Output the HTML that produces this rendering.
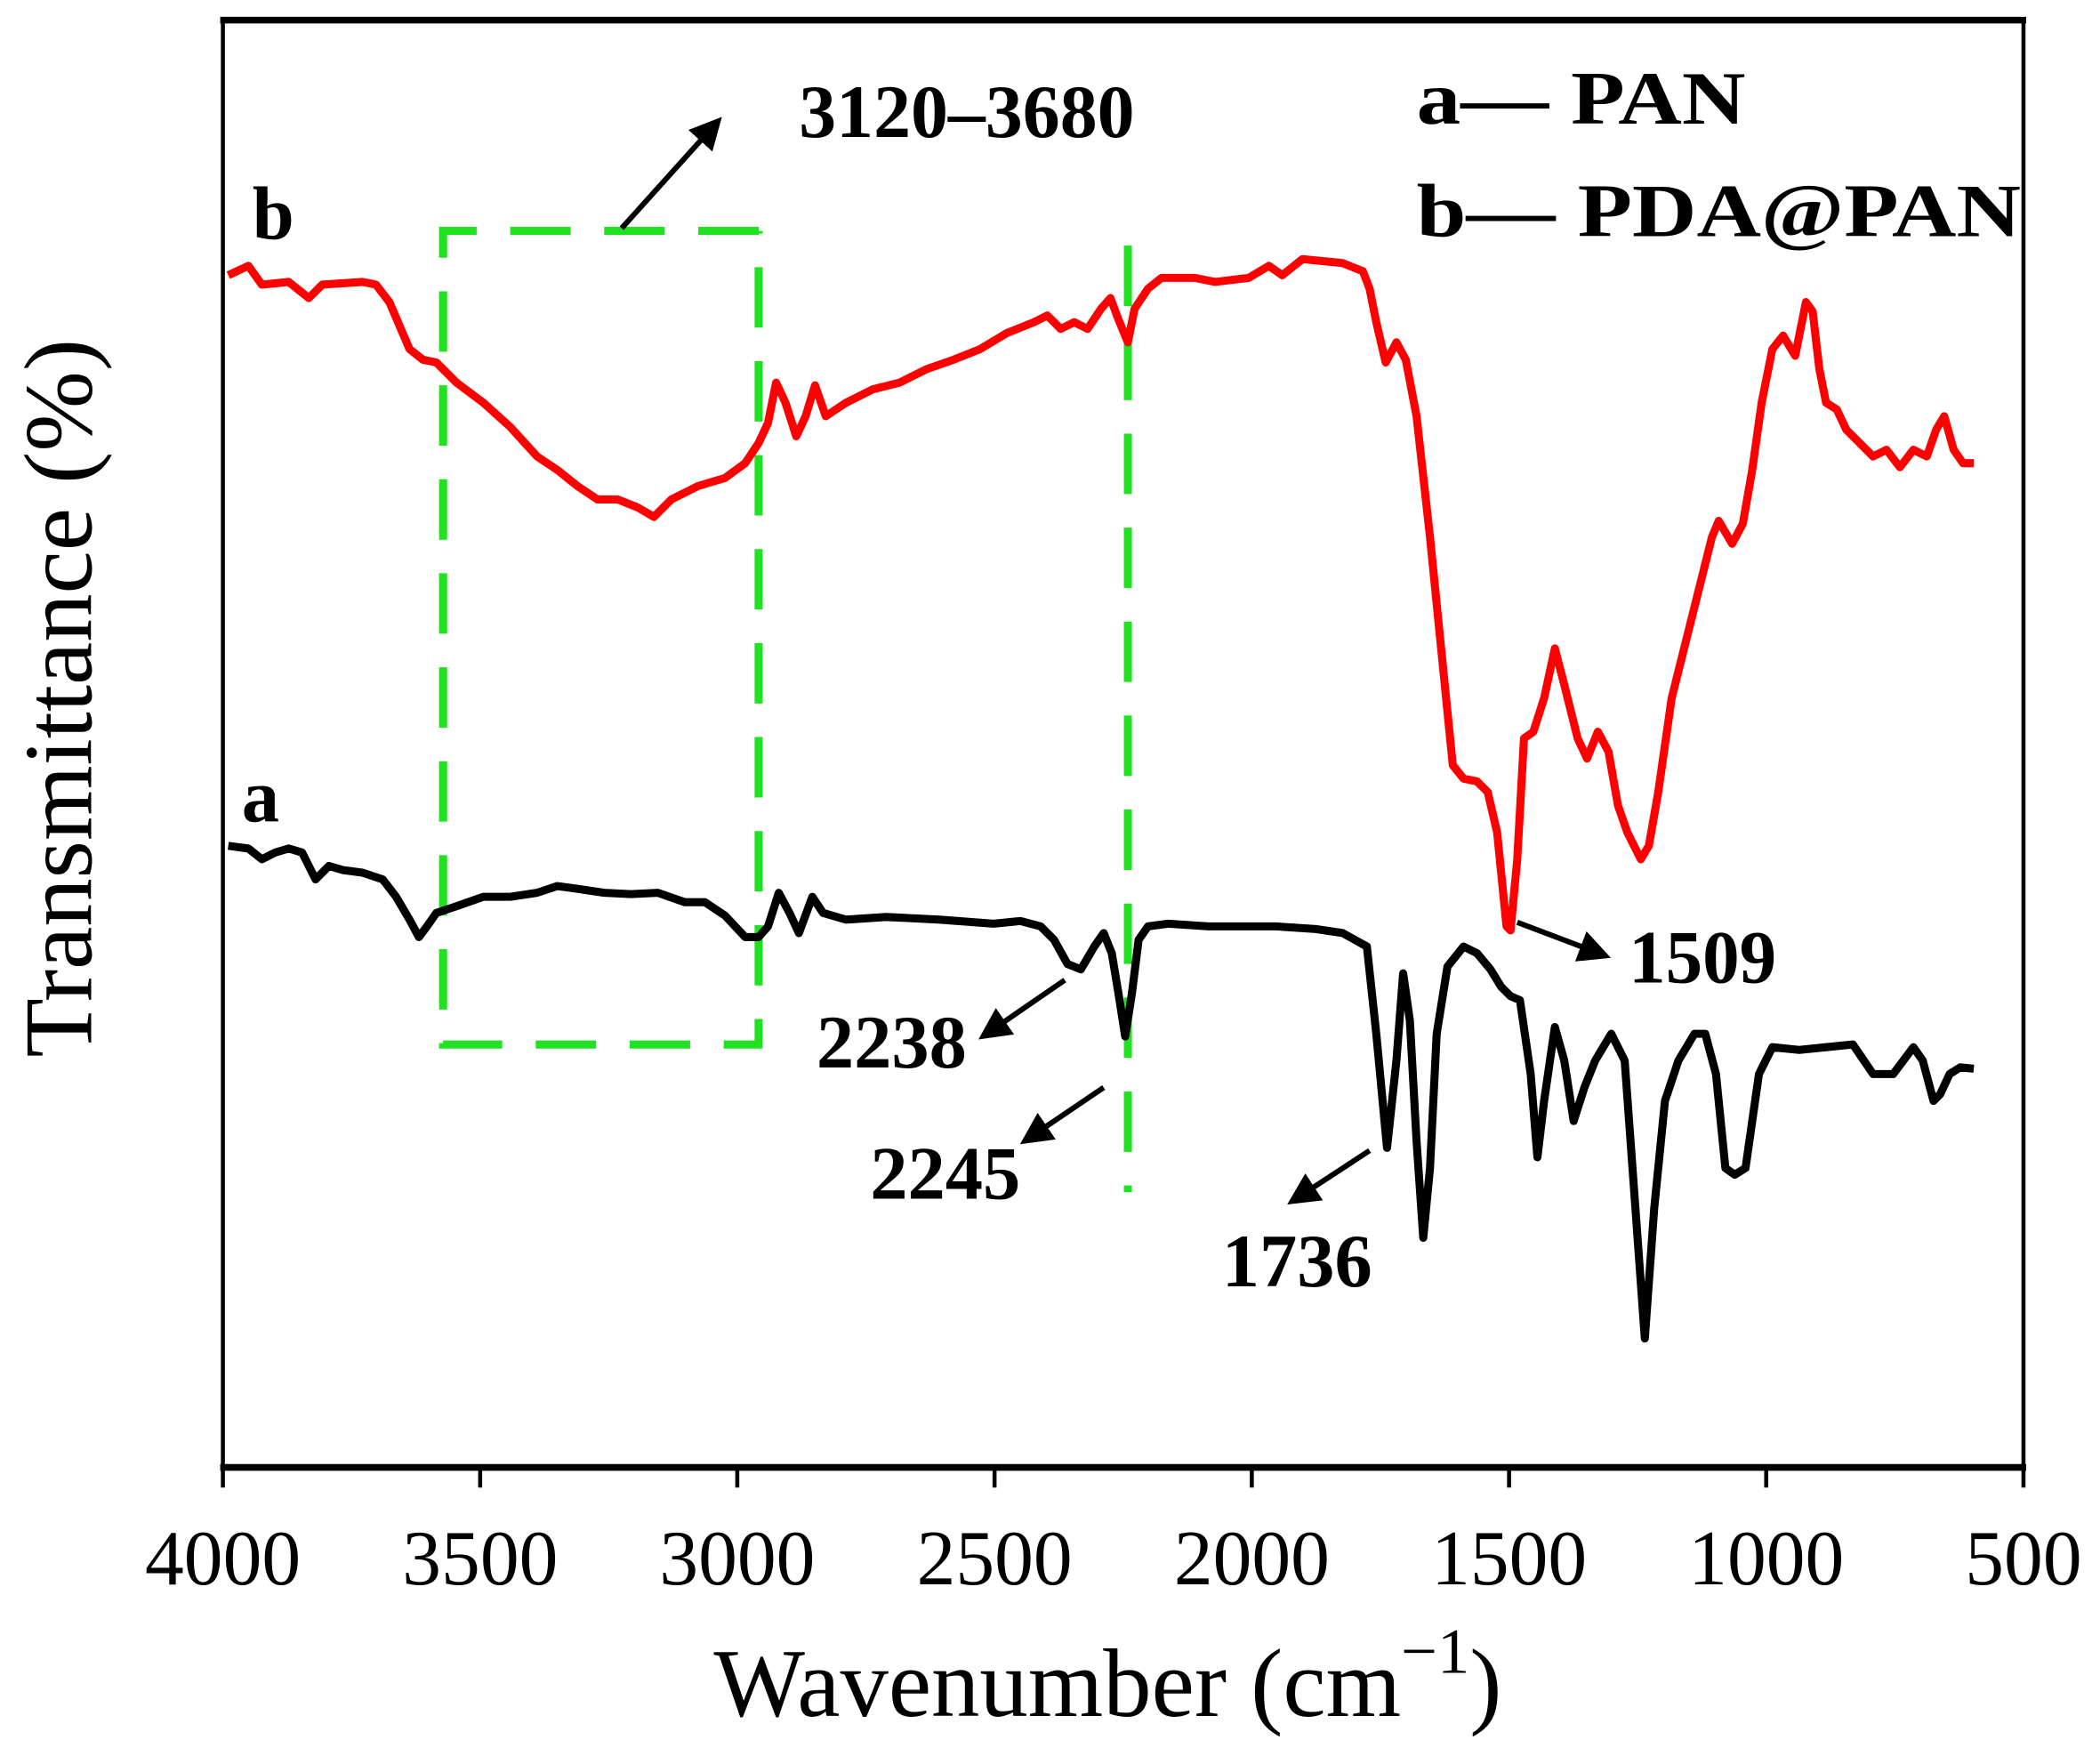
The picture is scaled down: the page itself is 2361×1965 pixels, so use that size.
<!DOCTYPE html>
<html><head><style>html,body{margin:0;padding:0;background:#fff}svg{display:block}</style></head>
<body>
<svg width="2361" height="1965" viewBox="0 0 1564 1302" preserveAspectRatio="none" xmlns="http://www.w3.org/2000/svg" font-family="Liberation Serif, serif">
<defs><marker id="ah" markerWidth="6" markerHeight="6" refX="5" refY="3" orient="auto" markerUnits="strokeWidth"><path d="M0,0 L6,3 L0,6 Z" fill="#000"/></marker></defs>
<rect x="166" y="15" width="1341" height="1078" fill="none" stroke="#000" stroke-width="3"/>
<line x1="164" y1="15" x2="1509" y2="15" stroke="#000" stroke-width="5"/>
<line x1="164" y1="1093" x2="1509" y2="1093" stroke="#000" stroke-width="5"/>
<g stroke="#000" stroke-width="3">
<line x1="166" y1="1093" x2="166" y2="1108"/><line x1="357.6" y1="1093" x2="357.6" y2="1108"/><line x1="549.1" y1="1093" x2="549.1" y2="1108"/><line x1="740.7" y1="1093" x2="740.7" y2="1108"/><line x1="932.3" y1="1093" x2="932.3" y2="1108"/><line x1="1123.9" y1="1093" x2="1123.9" y2="1108"/><line x1="1315.4" y1="1093" x2="1315.4" y2="1108"/><line x1="1507" y1="1093" x2="1507" y2="1108"/>
</g>
<g font-size="58" text-anchor="middle" fill="#000">
<text x="166" y="1180">4000</text><text x="357.6" y="1180">3500</text><text x="549.1" y="1180">3000</text><text x="740.7" y="1180">2500</text><text x="932.3" y="1180">2000</text><text x="1123.9" y="1180">1500</text><text x="1315.4" y="1180">1000</text><text x="1507" y="1180">500</text>
</g>
<text x="825" y="1278" font-size="72" text-anchor="middle">Wavenumber (cm<tspan dy="-32" font-size="48">−1</tspan><tspan dy="32">)</tspan></text>
<text transform="translate(68,520) rotate(-90)" font-size="72" text-anchor="middle">Transmittance (%)</text>
<g stroke="#22e022" stroke-width="6" stroke-dasharray="45,25" fill="none">
<path d="M565,172 L330,172 L330,778 L565,778 L565,172"/>
<line x1="840" y1="183" x2="840" y2="888"/>
</g>
<polyline fill="none" stroke="#ff0000" stroke-width="6" stroke-linejoin="round" points="170,205 185,198 195,212 215,210 230,222 240,212 270,210 280,212 290,225 305,260 315,268 325,270 340,285 360,300 380,318 400,340 415,350 430,362 445,372 460,372 475,378 487,385 500,372 520,362 540,356 555,345 565,330 572,315 578,285 585,300 593,325 600,310 607,287 615,310 630,300 650,290 670,285 690,275 710,268 730,260 750,248 770,240 780,235 790,245 800,240 810,245 820,230 827,222 833,238 840,255 845,230 855,215 865,207 890,207 905,210 930,207 945,198 955,205 970,193 1000,196 1015,202 1020,215 1025,240 1032,270 1040,255 1047,268 1055,310 1065,400 1075,500 1082,570 1090,580 1100,582 1108,590 1115,620 1122,690 1125,693 1130,640 1135,550 1142,545 1150,520 1158,483 1165,510 1175,550 1182,565 1190,545 1198,560 1205,600 1212,620 1222,640 1228,630 1235,590 1245,520 1255,480 1265,440 1275,400 1280,388 1290,405 1298,390 1305,350 1312,300 1320,260 1328,250 1337,265 1345,225 1350,232 1355,275 1360,300 1368,305 1375,320 1385,330 1395,340 1405,335 1415,348 1425,335 1435,340 1442,320 1448,310 1455,335 1462,345 1470,345"/>
<polyline fill="none" stroke="#000" stroke-width="6" stroke-linejoin="round" points="170,630 185,632 195,640 205,635 215,632 225,635 235,655 245,645 255,648 270,650 285,655 295,668 305,685 312,698 318,690 325,680 340,675 360,668 380,668 400,665 415,660 430,662 450,665 470,666 490,665 510,672 525,672 540,682 555,698 565,698 572,690 580,665 588,680 595,695 605,668 613,680 630,685 660,683 700,685 740,688 760,686 775,690 785,700 795,718 805,722 815,705 822,695 828,710 833,740 838,772 843,740 848,700 855,690 870,688 900,690 950,690 980,692 1000,695 1018,705 1025,770 1033,855 1040,790 1045,725 1050,760 1055,850 1060,922 1065,870 1070,770 1078,720 1090,705 1100,710 1110,722 1118,735 1125,742 1132,745 1140,800 1145,862 1150,820 1158,765 1165,790 1172,835 1180,810 1188,790 1200,770 1210,790 1218,900 1225,997 1232,900 1240,820 1250,790 1262,770 1270,770 1278,800 1285,870 1292,875 1300,870 1310,800 1320,780 1340,782 1360,780 1380,778 1395,800 1410,800 1425,780 1432,790 1440,820 1445,815 1452,800 1460,795 1470,796"/>
<g stroke="#000" stroke-width="4" marker-end="url(#ah)">
<line x1="463" y1="170" x2="535" y2="90"/>
<line x1="1130" y1="687" x2="1196" y2="712"/>
<line x1="793" y1="730" x2="732" y2="772"/>
<line x1="822" y1="810" x2="763" y2="850"/>
<line x1="1020" y1="857" x2="962" y2="895"/>
</g>
<g font-size="56" font-weight="bold" fill="#000" lengthAdjust="spacingAndGlyphs">
<text x="595" y="102" textLength="250" lengthAdjust="spacingAndGlyphs">3120–3680</text>
<text x="1055" y="92" textLength="245" lengthAdjust="spacingAndGlyphs">a— PAN</text>
<text x="1055" y="176" textLength="450" lengthAdjust="spacingAndGlyphs">b— PDA@PAN</text>
<text x="188" y="178">b</text>
<text x="180" y="612">a</text>
<text x="1213" y="732" textLength="110" lengthAdjust="spacingAndGlyphs">1509</text>
<text x="608" y="795" textLength="112" lengthAdjust="spacingAndGlyphs">2238</text>
<text x="648" y="893" textLength="112" lengthAdjust="spacingAndGlyphs">2245</text>
<text x="910" y="958" textLength="112" lengthAdjust="spacingAndGlyphs">1736</text>
</g>
</svg>
</body></html>
